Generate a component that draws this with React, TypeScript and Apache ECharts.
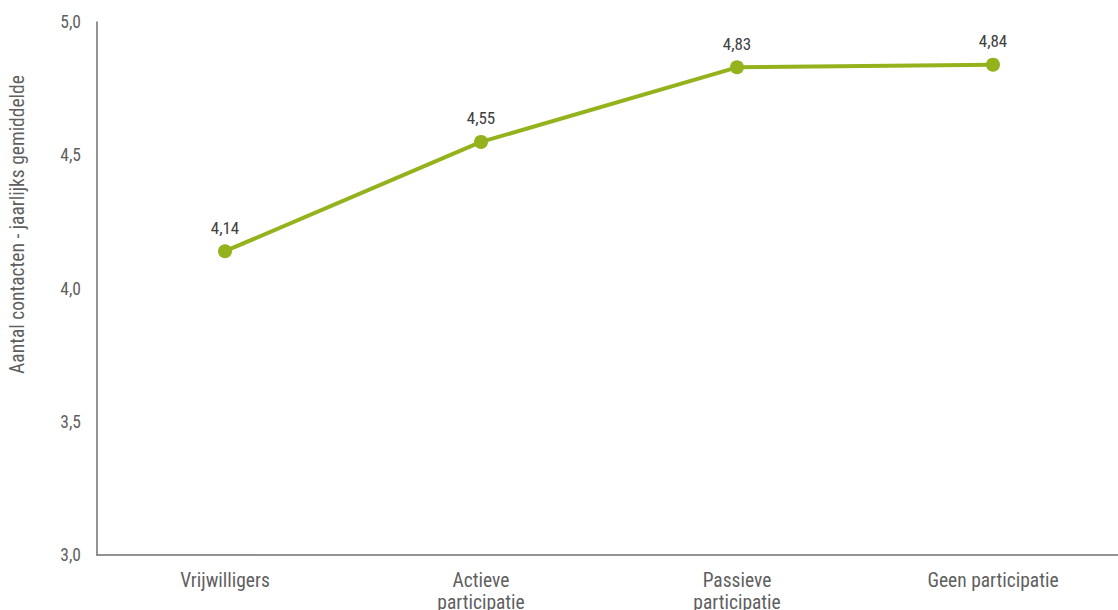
import React, { useEffect, useRef } from "react";
import * as echarts from "echarts";

const categories = ["Vrijwilligers", "Actieve\nparticipatie", "Passieve\nparticipatie", "Geen participatie"];
const values = [4.14, 4.55, 4.83, 4.84];
const yMin = 3.0;
const yMax = 5.0;
const yInterval = 0.5;
const yAxisName = "Aantal contacten - jaarlijks gemiddelde";

const FONT = '"Roboto Condensed", "Liberation Sans Narrow", "DejaVu Sans Condensed", "Noto Sans", sans-serif';
const fmt = (v: number, d: number) => v.toFixed(d).replace(".", ",");

export default function App() {
  const ref = useRef<HTMLDivElement>(null);
  useEffect(() => {
    if (!ref.current) return;
    const chart = echarts.init(ref.current, undefined, { renderer: "svg" });
    chart.setOption({
      animation: false,
      backgroundColor: "#ffffff",
      textStyle: { fontFamily: FONT },
      grid: { left: 97, top: 22, width: 1024, height: 533, outerBoundsMode: "none", containLabel: false },
      xAxis: {
        type: "category",
        data: categories,
        boundaryGap: true,
        axisLine: { lineStyle: { color: "#6f6f6f", width: 1.5 } },
        axisTick: { show: false },
        axisLabel: { color: "#5f5f5f", fontSize: 19.5, fontFamily: FONT, margin: 14, lineHeight: 22, hideOverlap: false },
      },
      yAxis: {
        type: "value",
        min: yMin,
        max: yMax,
        interval: yInterval,
        name: yAxisName,
        nameLocation: "middle",
        nameGap: 70,
        nameTextStyle: { color: "#5f5f5f", fontSize: 19.5, fontFamily: FONT, padding: [0, 0, 0, 128] },
        axisLine: { show: true, lineStyle: { color: "#6f6f6f", width: 1.5 } },
        axisTick: { show: false },
        splitLine: { show: false },
        axisLabel: { color: "#5f5f5f", fontSize: 17.5, fontFamily: FONT, margin: 16, formatter: (v: number) => fmt(v, 1) },
      },
      series: [
        {
          type: "line",
          data: values,
          symbol: "circle",
          symbolSize: 14,
          lineStyle: { color: "#93b21b", width: 4 },
          itemStyle: { color: "#93b21b" },
          label: {
            show: true,
            position: "top",
            distance: 8,
            color: "#404040",
            fontSize: 17,
            fontFamily: FONT,
            formatter: (p: any) => fmt(p.value, 2),
          },
        },
      ],
    });
    return () => chart.dispose();
  }, []);
  return <div ref={ref} style={{ position: "fixed", left: 0, top: 0, width: 1118, height: 610 }} />;
}
